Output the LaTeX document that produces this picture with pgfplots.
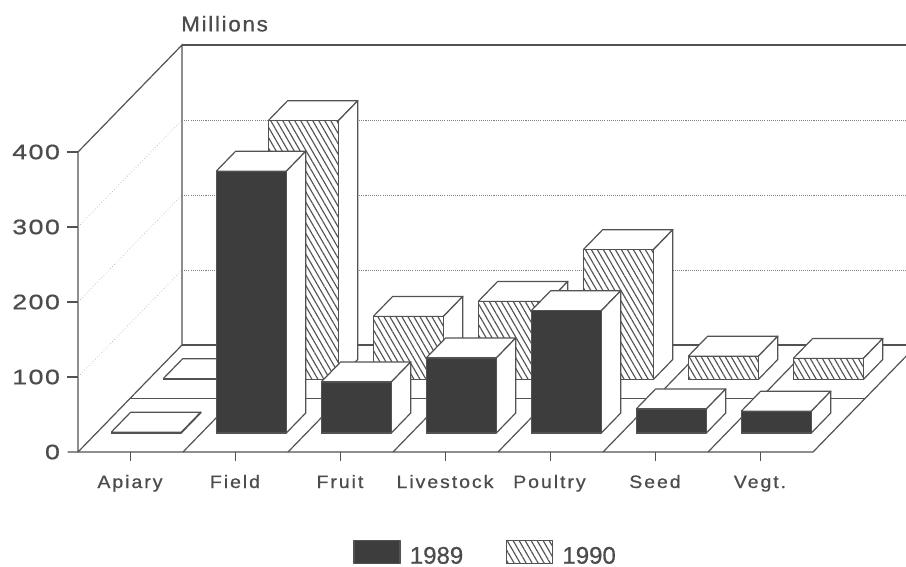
\documentclass[border=0pt]{standalone}
\usepackage{fontspec}
\usepackage{pgfplots}
\pgfplotsset{compat=1.18}
\usetikzlibrary{patterns.meta}
\setmainfont{Liberation Sans}
\newfontfamily\catfont[LetterSpace=11,FakeStretch=1.08,FakeBold=0.8]{Liberation Sans}
\newfontfamily\numfont[LetterSpace=7,FakeStretch=1.28,FakeBold=0.8]{Liberation Sans}
\newfontfamily\titlefont[LetterSpace=8,FakeStretch=1.05,FakeBold=0.8]{Liberation Sans}
\newfontfamily\legfont[FakeBold=0.6]{Liberation Sans}
\definecolor{ink}{gray}{0.32}
\definecolor{darkbar}{gray}{0.24}
\definecolor{txt}{gray}{0.3}

\tikzset{
  dark/.style={draw=ink, line width=0.9pt, line join=round, fill=darkbar},
  hatch/.style={draw=ink, line width=0.9pt, line join=round, fill=white,
    postaction={pattern={Lines[angle=-60,distance=3.9pt,line width=0.85pt]}, pattern color=ink}},
  side/.style={draw=ink, line width=0.9pt, line join=round, fill=white},
  ax/.style={draw=ink, line width=0.9pt},
  dots/.style={draw=gray, line width=0.4pt, dash pattern=on 0.8pt off 0.8pt},
  faint/.style={draw=gray!60, line width=0.35pt, dash pattern=on 0.7pt off 1.6pt},
  cat/.style={text=txt, inner sep=0pt, anchor=base, font=\fontsize{13.5}{15}\catfont},
  num/.style={anchor=east, inner sep=0pt, text=txt, font=\fontsize{15.7}{17}\numfont},
}

% one box: left x, front y, value, style of the front face
\newcommand{\boxbar}[4]{%
  \pgfmathsetmacro\xb{#1+0.668}%
  \pgfmathsetmacro\yb{#2+0.187}%
  \addplot3[side] coordinates {(#1,#2,#3) (\xb,#2,#3) (\xb,\yb,#3) (#1,\yb,#3) (#1,#2,#3)};
  \addplot3[side] coordinates {(\xb,#2,0) (\xb,\yb,0) (\xb,\yb,#3) (\xb,#2,#3) (\xb,#2,0)};
  \addplot3[#4] coordinates {(#1,#2,0) (\xb,#2,0) (\xb,#2,#3) (#1,#2,#3) (#1,#2,0)};
}

\begin{document}
\begin{tikzpicture}
\useasboundingbox (0,0) rectangle (679.5pt,425.25pt);
\begin{axis}[
    at={(58.5pt,86.25pt)}, anchor=origin,
    x={(78.75pt,0pt)}, y={(78pt,80.25pt)}, z={(0pt,0.5625pt)},
    xmin=0, xmax=7, ymin=0, ymax=1, zmin=0, zmax=400,
    hide axis, clip=false,
    legend columns=2,
    legend style={draw=none, fill=none, inner sep=0pt, at={(axis cs:3.885,0,-155.5)}, anchor=south,
      font=\fontsize{18}{18}\legfont\color{txt},
      /tikz/every odd column/.append style={column sep=5pt},
      /tikz/every even column/.append style={column sep=30pt}},
    legend image code/.code={\draw[#1] (0pt,-5.5pt) rectangle (34.5pt,12pt);},
    every axis plot/.append style={forget plot},
  ]
  % walls
  \addplot3[ax] coordinates {(0,0,0) (0,0,400) (0,1,400) (0,1,0)};
  \addplot3[ax] coordinates {(0,1,400) (7.2,1,400)};
  % grid on the walls
  \addplot3[faint] coordinates {(0,0,100) (0,1,100)};
  \addplot3[faint] coordinates {(0,0,200) (0,1,200)};
  \addplot3[faint] coordinates {(0,0,300) (0,1,300)};
  \addplot3[dots] coordinates {(0,1,100) (7.2,1,100)};
  \addplot3[dots] coordinates {(0,1,200) (7.2,1,200)};
  \addplot3[dots] coordinates {(0,1,300) (7.2,1,300)};
  % floor
  \addplot3[ax] coordinates {(-0.1,0,0) (7,0,0) (7,1,0)};
  \addplot3[ax] coordinates {(0,0.5,0) (7,0.5,0)};
  \addplot3[ax] coordinates {(0,1,0) (7.2,1,0)};
  \addplot3[ax] coordinates {(0,0,0) (0,1,0)};
  \addplot3[ax] coordinates {(1,0,0) (1,1,0)};
  \addplot3[ax] coordinates {(2,0,0) (2,1,0)};
  \addplot3[ax] coordinates {(3,0,0) (3,1,0)};
  \addplot3[ax] coordinates {(4,0,0) (4,1,0)};
  \addplot3[ax] coordinates {(5,0,0) (5,1,0)};
  \addplot3[ax] coordinates {(6,0,0) (6,1,0)};
  % ticks
  \addplot3[ax] coordinates {(-0.105,0,100) (0,0,100)};
  \addplot3[ax] coordinates {(-0.105,0,200) (0,0,200)};
  \addplot3[ax] coordinates {(-0.105,0,300) (0,0,300)};
  \addplot3[ax] coordinates {(-0.105,0,400) (0,0,400)};
  \addplot3[ax] coordinates {(0.5,0,0) (0.5,0,-12)};
  \addplot3[ax] coordinates {(1.5,0,0) (1.5,0,-12)};
  \addplot3[ax] coordinates {(2.5,0,0) (2.5,0,-12)};
  \addplot3[ax] coordinates {(3.5,0,0) (3.5,0,-12)};
  \addplot3[ax] coordinates {(4.5,0,0) (4.5,0,-12)};
  \addplot3[ax] coordinates {(5.5,0,0) (5.5,0,-12)};
  \addplot3[ax] coordinates {(6.5,0,0) (6.5,0,-12)};

  % 1990, the back row
  \boxbar{0.14}{0.678}{1}{hatch}
  \boxbar{1.14}{0.678}{345}{hatch}
  \boxbar{2.14}{0.678}{84}{hatch}
  \boxbar{3.14}{0.678}{104}{hatch}
  \boxbar{4.14}{0.678}{173}{hatch}
  \boxbar{5.14}{0.678}{31}{hatch}
  \boxbar{6.14}{0.678}{28}{hatch}
  % 1989, the front row
  \boxbar{0.14}{0.178}{1}{dark}
  \boxbar{1.14}{0.178}{349}{dark}
  \boxbar{2.14}{0.178}{68}{dark}
  \boxbar{3.14}{0.178}{100}{dark}
  \boxbar{4.14}{0.178}{163}{dark}
  \boxbar{5.14}{0.178}{32}{dark}
  \boxbar{6.14}{0.178}{29}{dark}

  % text
  \node[anchor=west, inner sep=0pt, text=txt, font=\fontsize{16}{17}\titlefont] at (axis cs:0.981,0,571) {Millions};
  \node[num] at (axis cs:-0.17,0,0) {0};
  \node[num] at (axis cs:-0.17,0,100) {100};
  \node[num] at (axis cs:-0.17,0,200) {200};
  \node[num] at (axis cs:-0.17,0,300) {300};
  \node[num] at (axis cs:-0.17,0,400) {400};
  \node[cat] at (axis cs:0.495,0,-48) {Apiary};
  \node[cat] at (axis cs:1.495,0,-48) {Field};
  \node[cat] at (axis cs:2.495,0,-48) {Fruit};
  \node[cat] at (axis cs:3.495,0,-48) {Livestock};
  \node[cat] at (axis cs:4.49,0,-48) {Poultry};
  \node[cat] at (axis cs:5.495,0,-48) {Seed};
  \node[cat] at (axis cs:6.495,0,-48) {Vegt.};

  % legend
  \addlegendimage{dark}
  \addlegendentry{1989}
  \addlegendimage{hatch}
  \addlegendentry{1990}
\end{axis}
\end{tikzpicture}
\end{document}
